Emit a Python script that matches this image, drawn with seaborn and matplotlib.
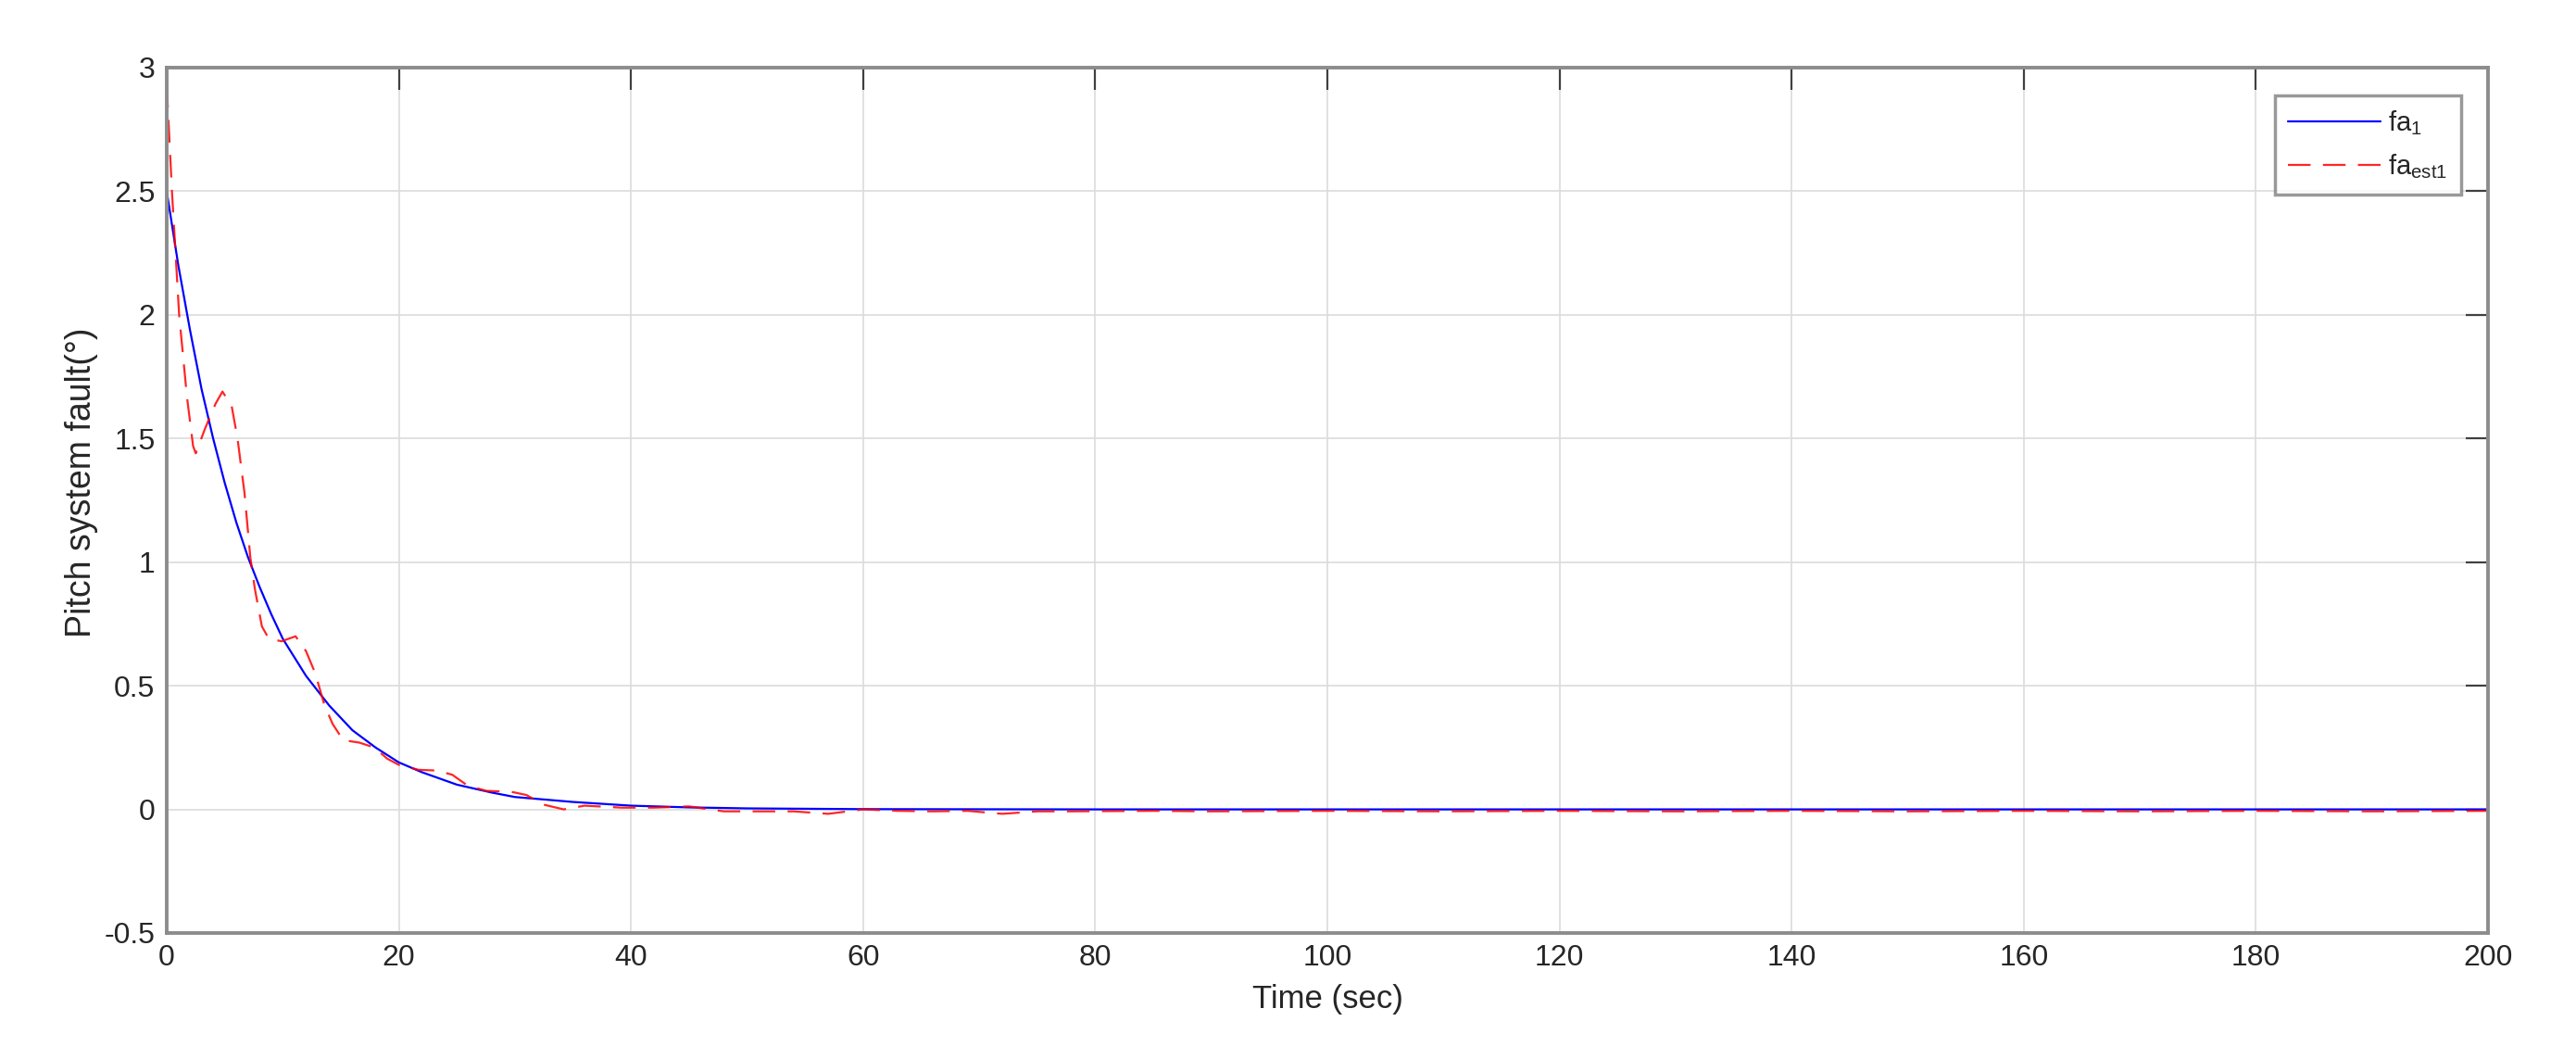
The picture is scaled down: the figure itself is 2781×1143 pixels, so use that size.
import pandas as pd
import matplotlib
matplotlib.use('Agg')
import matplotlib.pyplot as plt
import seaborn as sns

t_fa = [0, 1, 2, 3, 4, 5, 6, 7, 8, 9, 10, 12, 14, 16, 18, 20, 22, 25, 28, 30, 35, 40, 45, 50, 60, 80, 100, 150, 200]
fa = [2.5, 2.2, 1.94, 1.70, 1.50, 1.32, 1.16, 1.02, 0.90, 0.79, 0.69, 0.54, 0.42, 0.32, 0.25, 0.19, 0.15, 0.10, 0.068, 0.05, 0.03, 0.015, 0.008, 0.004, 0.001, 0.0, 0.0, 0.0, 0.0]

# fa_est1 (estimated fault)
t_est = [0, 0.45, 1.07, 1.74, 2.27, 2.5, 3.3, 4.2, 4.8, 5.6, 6.1, 6.7, 7.2, 7.6, 8.2, 8.8, 9.9, 11.1, 12.0,
         12.8, 13.6, 14.3, 15.2, 16.6, 17.9, 19.0, 20.0, 21.7, 23.3, 24.6, 25.9, 27.5, 29.7, 31.0, 32.4,
         34.2, 36.0, 39.2, 42, 45, 48, 51, 54, 57, 60, 63, 66, 69, 72, 75, 78, 85, 90, 100, 110, 120,
         130, 140, 150, 160, 170, 180, 190, 200]
fa_est = [2.93, 2.5, 2.0, 1.67, 1.47, 1.44, 1.54, 1.64, 1.69, 1.63, 1.5, 1.28, 1.02, 0.89, 0.74, 0.69, 0.68,
          0.70, 0.64, 0.55, 0.42, 0.345, 0.28, 0.27, 0.25, 0.205, 0.18, 0.16, 0.157, 0.14, 0.097, 0.075,
          0.071, 0.058, 0.02, 0.0, 0.015, 0.007, 0.007, 0.012, -0.008, -0.008, -0.008, -0.018, 0.0, -0.006,
          -0.008, -0.006, -0.018, -0.008, -0.008, -0.006, -0.008, -0.006, -0.008, -0.006, -0.008, -0.006,
          -0.008, -0.006, -0.008, -0.006, -0.008, -0.006]

x_ticks = [0, 20, 40, 60, 80, 100, 120, 140, 160, 180, 200]
y_ticks = [-0.5, 0, 0.5, 1, 1.5, 2, 2.5, 3]
y_tick_labels = ['-0.5', '0', '0.5', '1', '1.5', '2', '2.5', '3']

sns.set_style('white')
plt.rcParams['font.family'] = ['Liberation Sans', 'DejaVu Sans']
plt.rcParams['mathtext.default'] = 'regular'

df_fa = pd.DataFrame({'t': t_fa, 'v': fa})
df_est = pd.DataFrame({'t': t_est, 'v': fa_est})

fig = plt.figure(figsize=(27.81, 11.43), dpi=100)
ax = fig.add_axes([180 / 2781, 1 - 1007 / 1143, (2686 - 180) / 2781, (1007 - 73) / 1143])

sns.lineplot(data=df_fa, x='t', y='v', ax=ax, color='#0000ff', linewidth=1.6, label='fa$_1$')
sns.lineplot(data=df_est, x='t', y='v', ax=ax, color='#ff0000', linewidth=1.6,
             linestyle=(0, (11, 6)), label='fa$_{est1}$', alpha=0.85)

ax.set_xlim(0, 200)
ax.set_ylim(-0.5, 3)
ax.set_xticks(x_ticks)
ax.set_yticks(y_ticks)
ax.set_yticklabels(y_tick_labels)
ax.grid(True, color='#dcdcdc', linewidth=1.2)
ax.set_axisbelow(True)
ax.tick_params(direction='in', length=17, width=1.6, color='#404040', labelsize=23,
               labelcolor='#262626', top=True, right=True, pad=9)
for s in ax.spines.values():
    s.set_color('#8c8c8c')
    s.set_linewidth(2.8)
ax.set_xlabel('Time (sec)', fontsize=25, color='#262626', labelpad=9)
ax.set_ylabel('Pitch system fault(°)', fontsize=27, color='#262626')
ax.yaxis.set_label_coords(-0.0295, 0.521)

leg = ax.legend(loc='upper right', bbox_to_anchor=(2657 / 2781, 1 - 103 / 1143),
                bbox_transform=fig.transFigure, borderaxespad=0, fontsize=21, frameon=True,
                fancybox=False, handlelength=3.4, handletextpad=0.3, borderpad=0.5,
                labelspacing=0.55)
leg.get_frame().set_edgecolor('#808080')
leg.get_frame().set_linewidth(2.5)

plt.savefig('out.png', dpi=100)
